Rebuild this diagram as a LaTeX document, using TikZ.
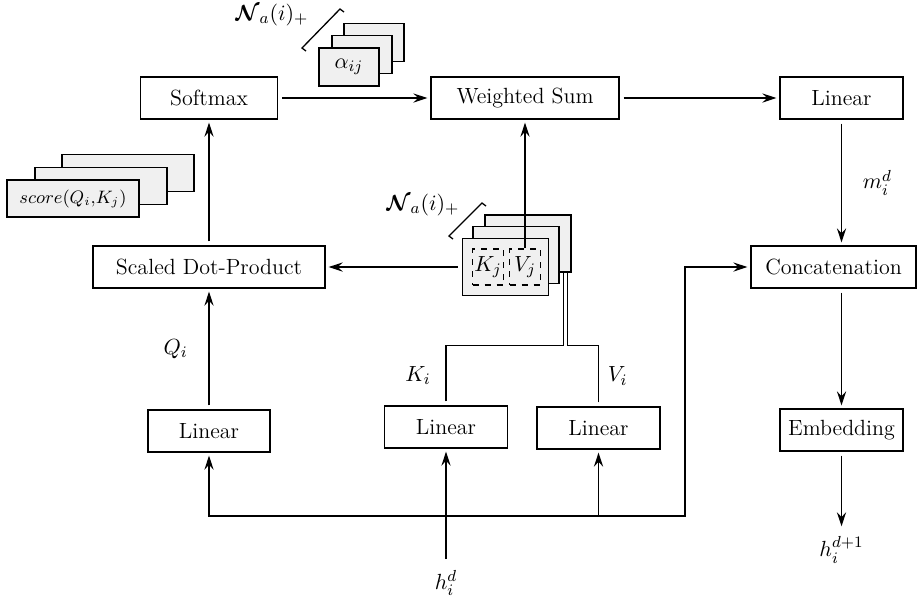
\documentclass[tikz,border=0pt]{standalone}
\usepackage{amsmath}
\usepackage{tikz}
\usetikzlibrary{arrows.meta,positioning}

\begin{document}
\begin{tikzpicture}[->, >={Stealth[length=7pt, width=4.6pt, inset=2.4pt]}, shorten >= 1.5pt, shorten <= 2pt, auto, line width=0.65pt, x=0.5pt, y=-0.5pt,
	every node/.style={font=\fontsize{11}{13}\selectfont}]
\tikzstyle{block}=[rectangle, draw=black, minimum height=21pt, inner sep=2pt]
\tikzstyle{sheet}=[rectangle, draw=black, fill=black!6, inner sep=1pt]
\tikzstyle{slot}=[rectangle, draw=black, dashed, fill=black!6, minimum width=15.5pt, minimum height=18pt, inner sep=0pt]

\useasboundingbox (0,0) rectangle (924,602);

% blocks
\node[block, minimum width=68.5pt]	(softmax)	at (209,98)	{Softmax};
\node[block, minimum width=94pt]	(wsum)		at (525,98)	{Weighted Sum};
\node[block, minimum width=61.5pt]	(outlin)	at (841.5,98)	{Linear};
\node[block, minimum width=116pt]	(dotprod)	at (209,267)	{Scaled Dot-Product};
\node[block, minimum width=82.5pt]	(concat)	at (833.5,267)	{Concatenation};
\node[block, minimum width=61pt]	(lin1)		at (209,431)	{Linear};
\node[block, minimum width=61.5pt]	(lin2)		at (446,427)	{Linear};
\node[block, minimum width=61.5pt]	(lin3)		at (598.5,428)	{Linear};
\node[block, minimum width=61.5pt]	(embed)		at (841.5,430)	{Embedding};

\node (hin)	at (446,583)	{$h_i^d$};
\node (hnext)	at (841.5,550)	{$h_i^{d+1}$};

% stacked sheets
\node[sheet, minimum width=66pt, minimum height=18.5pt]	(score3)	at (128,173)	{};
\node[sheet, minimum width=66pt, minimum height=18.5pt]	(score2)	at (101,186)	{};
\node[sheet, minimum width=66pt, minimum height=18.5pt, font=\fontsize{9}{11}\selectfont]	(score)	at (73,198.5)	{$score(Q_i{,}K_j)$};

\node[sheet, minimum width=30pt, minimum height=19pt]	(alpha3)	at (374,42.5)	{};
\node[sheet, minimum width=30pt, minimum height=19pt]	(alpha2)	at (362,54.5)	{};
\node[sheet, minimum width=30pt, minimum height=19pt]	(alpha)		at (349,67)	{$\alpha_{ij}$};

\node[sheet, minimum width=43pt, minimum height=28.5pt]	(kv3)	at (528,243.5)	{};
\node[sheet, minimum width=43pt, minimum height=28.5pt]	(kv2)	at (516,255)	{};
\node[sheet, minimum width=43pt, minimum height=28.5pt]	(kv)	at (505.5,267)	{};
\node[slot]	(kj)	at (488,267)	{$K_j$};
\node[slot]	(vj)	at (525,267)	{$V_j$};

\node (natop)	at (272,15)	{$\boldsymbol{\mathcal{N}}_a(i)_+$};
\node (namid)	at (423,205)	{$\boldsymbol{\mathcal{N}}_a(i)_+$};

% count marks
\coordinate (ta1) at (302,48);
\coordinate (ta2) at (340,9);
\coordinate (tb1) at (449,236);
\coordinate (tb2) at (482,203);
\draw[-, shorten >=0pt, shorten <=0pt] ([shift={(4,3)}]ta1) -- (ta1) -- (ta2) -- ([shift={(4,3)}]ta2);
\draw[-, shorten >=0pt, shorten <=0pt] ([shift={(4,3)}]tb1) -- (tb1) -- (tb2) -- ([shift={(4,3)}]tb2);

\path
	(softmax)	edge				(wsum)
	(wsum)		edge				(outlin)
	(dotprod)	edge				(softmax)
	(kv)		edge				(dotprod)
	(lin1)		edge	node[left=7pt]	{$Q_i$}		(dotprod)
	(outlin)	edge	node[right=7pt]	{$m_i^d$}	(outlin.south |- concat.north)
	(embed.north |- concat.south)	edge	(embed)
	(embed)		edge				(hnext)
	(hin)		edge				(lin2)
;

\draw[shorten <=0pt] (vj.north) -- (wsum.south);

% keys and values back into the stack
\coordinate (kdrop) at ([xshift=-4pt]kv3.south east);
\coordinate (vdrop) at ([xshift=-2pt]kv3.south east);
\draw[-, shorten >=0pt] (lin2) |- node[left=4pt, pos=0.25] {$K_i$} ([yshift=-36.5pt]kdrop) -- (kdrop);
\draw[-, shorten >=0pt] (lin3) |- node[right=1pt, pos=0.25] {$V_i$} ([yshift=-36.5pt]vdrop) -- (vdrop);

% input bus
\coordinate (hbus)	at (446,516);
\coordinate (cbend)	at (685,516);
\draw[shorten <=0pt] (hbus) -| (lin1);
\draw[shorten <=0pt] (hbus) -| (lin3);
\draw[shorten <=0pt] (hbus) -- (cbend) |- (concat);

\end{tikzpicture}
\end{document}
